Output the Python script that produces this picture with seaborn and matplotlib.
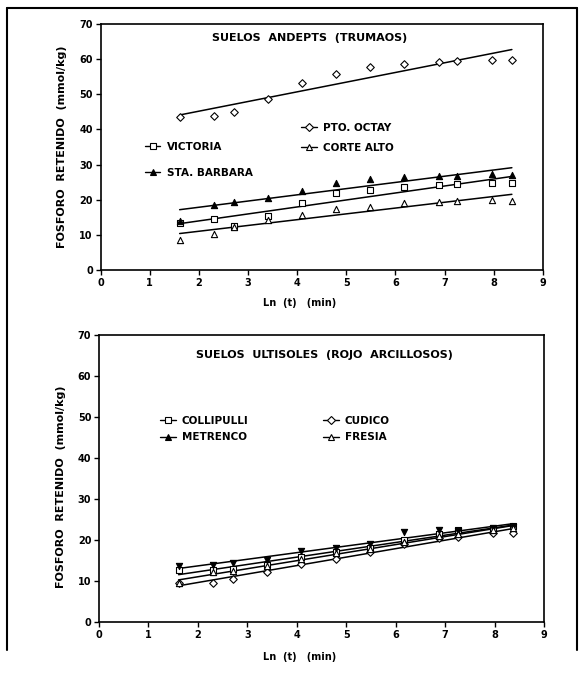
import matplotlib
matplotlib.use("Agg")
import matplotlib.pyplot as plt
import seaborn as sns
from matplotlib.lines import Line2D

# datos: Ln(t) y fosforo retenido (mmol/kg)
ln_t = [1.61, 2.30, 2.71, 3.40, 4.09, 4.79, 5.48, 6.17, 6.88, 7.26, 7.97, 8.37]

# suelos andepts (trumaos)
pto_octay = [43.4, 43.9, 45.0, 48.7, 53.1, 55.7, 57.7, 58.5, 59.2, 59.4, 59.8, 59.9]
victoria = [13.5, 14.5, 12.5, 15.4, 19.0, 22.0, 22.8, 23.5, 24.2, 24.4, 24.7, 24.7]
sta_barbara = [13.9, 18.5, 19.3, 20.6, 22.6, 24.7, 25.8, 26.6, 26.7, 26.7, 27.3, 27.0]
corte_alto = [8.4, 10.2, 12.3, 14.2, 15.6, 17.3, 18.0, 19.0, 19.3, 19.5, 19.9, 19.7]

# suelos ultisoles (rojo arcillosos)
collipulli = [12.8, 12.6, 12.9, 14.0, 15.9, 17.0, 18.1, 19.9, 21.5, 22.4, 22.6, 23.4]
cudico = [9.6, 9.4, 10.5, 12.2, 14.2, 15.4, 17.0, 19.1, 20.5, 20.7, 21.6, 21.8]
metrenco = [13.6, 13.8, 14.5, 15.2, 17.3, 18.1, 18.9, 21.9, 22.5, 22.2, 22.8, 23.2]
fresia = [9.4, 12.2, 12.4, 13.6, 15.4, 16.8, 17.8, 19.5, 21.0, 21.5, 22.4, 23.0]

sns.set_style("ticks")
plt.rcParams["font.family"] = ["DejaVu Sans"]
plt.rcParams["font.weight"] = "bold"
plt.rcParams["axes.labelweight"] = "bold"
for k in ("text.color", "axes.labelcolor", "xtick.color", "ytick.color", "axes.edgecolor"):
    plt.rcParams[k] = "black"

fig = plt.figure(figsize=(5.82, 6.73), dpi=100)
ax1 = fig.add_axes([0.1727, 0.5988, 0.760, 0.3655])
ax2 = fig.add_axes([0.170, 0.0758, 0.765, 0.4265])


def serie(ax, y, marker, filled, s=20):
    sns.regplot(x=ln_t, y=y, ax=ax, ci=None, marker=marker,
                scatter_kws=dict(s=s, facecolors="black" if filled else "white",
                                 edgecolors="black", linewidths=0.8, alpha=1, zorder=3),
                line_kws=dict(color="black", lw=1.1, zorder=2))


def handle(marker, filled, ms=5):
    return Line2D([], [], color="black", lw=1.0, marker=marker, ms=ms,
                  mfc="black" if filled else "white", mec="black", mew=0.8)


serie(ax1, pto_octay, "D", False, s=15)
serie(ax1, victoria, "s", False)
serie(ax1, sta_barbara, "^", True)
serie(ax1, corte_alto, "^", False)

serie(ax2, collipulli, "s", False)
serie(ax2, cudico, "D", False, s=15)
serie(ax2, metrenco, "v", True)
serie(ax2, fresia, "^", False)

for ax in (ax1, ax2):
    ax.set_xlim(0, 9)
    ax.set_ylim(0, 70)
    ax.set_xticks(range(0, 10))
    ax.set_yticks(range(0, 80, 10))
    ax.tick_params(direction="out", length=3.5, width=1.0, labelsize=7, pad=2)
    for sp in ax.spines.values():
        sp.set_visible(True)
        sp.set_linewidth(1.2)
        sp.set_color("black")
    ax.set_xlabel("Ln  (t)   (min)", fontsize=7)
    ax.set_ylabel("FOSFORO  RETENIDO  (mmol/kg)", fontsize=8)

ax1.xaxis.set_label_coords(0.45, -0.115)
ax2.xaxis.set_label_coords(0.45, -0.105)
ax1.yaxis.set_label_coords(-0.075, 0.5)
ax2.yaxis.set_label_coords(-0.075, 0.47)

ax1.text(0.473, 0.943, "SUELOS  ANDEPTS  (TRUMAOS)", transform=ax1.transAxes,
         ha="center", va="center", fontsize=8)
ax2.text(0.506, 0.93, "SUELOS  ULTISOLES  (ROJO  ARCILLOSOS)", transform=ax2.transAxes,
         ha="center", va="center", fontsize=8)

leg_kw = dict(frameon=False, borderpad=0, borderaxespad=0, handlelength=1.5,
              handletextpad=0.6, fontsize=7.5, loc="center left")

l1 = ax1.legend(handles=[handle("D", False, 4), handle("^", False)],
                labels=["PTO. OCTAY", "CORTE ALTO"],
                bbox_to_anchor=(0.453, 0.537), labelspacing=0.95, **leg_kw)
ax1.add_artist(l1)
ax1.legend(handles=[handle("s", False), handle("^", True)],
           labels=["VICTORIA", "STA. BARBARA"],
           bbox_to_anchor=(0.10, 0.447), labelspacing=1.55, **leg_kw)

l2 = ax2.legend(handles=[handle("D", False, 4), handle("^", False)],
                labels=["CUDICO", "FRESIA"],
                bbox_to_anchor=(0.503, 0.672), labelspacing=0.6, **leg_kw)
ax2.add_artist(l2)
ax2.legend(handles=[handle("s", False), handle("^", True)],
           labels=["COLLIPULLI", "METRENCO"],
           bbox_to_anchor=(0.137, 0.672), labelspacing=0.6, **leg_kw)

# marco de la figura
for xs, ys in [([0.012, 0.012], [0.034, 0.988]),
               ([0.012, 0.991], [0.988, 0.988]),
               ([0.991, 0.991], [0.034, 0.988])]:
    fig.add_artist(Line2D(xs, ys, color="black", lw=1.5, transform=fig.transFigure))

fig.savefig("out.png", dpi=100)
